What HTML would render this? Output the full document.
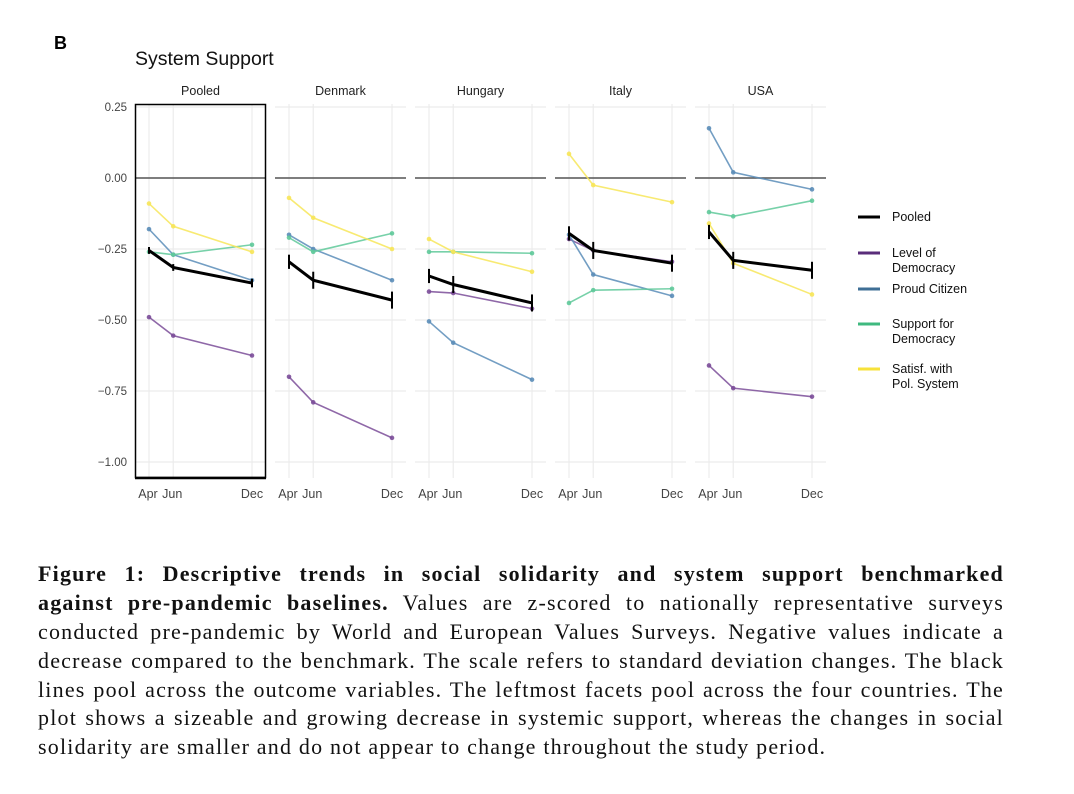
<!DOCTYPE html>
<html><head><meta charset="utf-8"><style>
body{margin:0;background:#fff;width:1074px;height:794px;overflow:hidden;position:relative;}
svg{position:absolute;left:0;top:0}
.cap{position:absolute;left:38px;width:966px;font-family:"Liberation Serif",serif;font-size:22px;letter-spacing:1.2px;color:#111;}
.cap div{height:28.9px;line-height:28.9px;text-align:justify;text-align-last:justify;white-space:nowrap;}
.cap div.last{text-align-last:left}
</style></head><body>
<svg id="chart" width="1074" height="540" font-family="Liberation Sans, sans-serif"></svg>
<div class="cap" style="top:560px">
<div><b>Figure 1: Descriptive trends in social solidarity and system support benchmarked</b></div>
<div><b>against pre-pandemic baselines.</b> Values are z-scored to nationally representative surveys</div>
<div>conducted pre-pandemic by World and European Values Surveys. Negative values indicate a</div>
<div>decrease compared to the benchmark. The scale refers to standard deviation changes. The black</div>
<div>lines pool across the outcome variables. The leftmost facets pool across the four countries. The</div>
<div>plot shows a sizeable and growing decrease in systemic support, whereas the changes in social</div>
<div class="last">solidarity are smaller and do not appear to change throughout the study period.</div>
</div>
<script>
const panels=["Pooled","Denmark","Hungary","Italy","USA"];
const months=["Apr","Jun","Dec"];
const monthPos=[0,2,8.5];
const yTicks=[0.25,0,-0.25,-0.5,-0.75,-1.0];
const yTickLabels=["0.25","0.00","\u22120.25","\u22120.50","\u22120.75","\u22121.00"];
const series=["Level of Democracy","Proud Citizen","Support for Democracy","Satisf. with Pol. System"];
const levelDem=[[-0.49,-0.555,-0.625],[-0.70,-0.79,-0.915],[-0.40,-0.405,-0.46],[-0.215,-0.255,-0.295],[-0.66,-0.74,-0.77]];
const proudCit=[[-0.18,-0.27,-0.36],[-0.20,-0.25,-0.36],[-0.505,-0.58,-0.71],[-0.20,-0.34,-0.415],[0.175,0.02,-0.04]];
const suppDem=[[-0.26,-0.27,-0.235],[-0.21,-0.26,-0.195],[-0.26,-0.26,-0.265],[-0.44,-0.395,-0.39],[-0.12,-0.135,-0.08]];
const satisf=[[-0.09,-0.17,-0.26],[-0.07,-0.14,-0.25],[-0.215,-0.26,-0.33],[0.085,-0.025,-0.085],[-0.16,-0.30,-0.41]];
const pooled=[[-0.255,-0.315,-0.37],[-0.295,-0.36,-0.43],[-0.345,-0.375,-0.44],[-0.195,-0.255,-0.30],[-0.19,-0.29,-0.325]];
const pooledErr=[[0.012,0.012,0.015],[0.025,0.03,0.03],[0.025,0.03,0.03],[0.025,0.03,0.03],[0.025,0.03,0.03]];
const colors=["#7b4d99","#5b8db8","#5fc99a","#f7e659"];
const NS="http://www.w3.org/2000/svg";
const svg=document.getElementById('chart');
function mk(t,a,p){const e=document.createElementNS(NS,t);for(const k in a)e.setAttribute(k,a[k]);(p||svg).appendChild(e);return e;}
const yS=v=>178-v*284;
const panelX=i=>135+i*140, panelW=131;
const xS=(i,m)=>panelX(i)+14+monthPos[m]/8.5*103;
let t=mk('text',{x:54,y:49,'font-size':18,fill:'#000','font-weight':'bold'});t.textContent='B';

t=mk('text',{x:135,y:65,'font-size':19.5,fill:'#111'});t.textContent='System Support';

yTicks.forEach((v,k)=>{const e=mk('text',{x:127,y:yS(v)+4,'font-size':11.5,fill:'#444','text-anchor':'end'});e.textContent=yTickLabels[k];
});
panels.forEach((p,i)=>{
  const g=mk('g',{});
  
  yTicks.forEach(v=>mk('line',{x1:panelX(i),x2:panelX(i)+panelW,y1:yS(v),y2:yS(v),stroke:'#ececec','stroke-width':1.2},g));
  months.forEach((m,k)=>mk('line',{x1:xS(i,k),x2:xS(i,k),y1:104,y2:478,stroke:'#ececec','stroke-width':1.2},g));
  mk('line',{x1:panelX(i),x2:panelX(i)+panelW,y1:yS(0),y2:yS(0),stroke:'#555','stroke-width':1.6},g);
  const s=mk('text',{x:panelX(i)+panelW/2,y:95,'font-size':12.5,fill:'#222','text-anchor':'middle'},g);s.textContent=p;
  
  months.forEach((m,k)=>{const e=mk('text',{x:xS(i,k)+(k==0?-1:(k==1?-1:0)),y:498,'font-size':12.5,fill:'#444','text-anchor':'middle'},g);e.textContent=m;
    });
  [levelDem,proudCit,suppDem,satisf].forEach((arr,si)=>{
    const pts=arr[i].map((v,k)=>xS(i,k)+','+yS(v)).join(' ');
    const l=mk('polyline',{points:pts,fill:'none',stroke:colors[si],'stroke-width':1.6,opacity:0.85},g);
    
    
    arr[i].forEach((v,k)=>{const c=mk('circle',{cx:xS(i,k),cy:yS(v),r:2.3,fill:colors[si],opacity:0.9},g);
      });
  });
  const pl=mk('polyline',{points:pooled[i].map((v,k)=>xS(i,k)+','+yS(v)).join(' '),fill:'none',stroke:'#000','stroke-width':3},g);
  
  pooled[i].forEach((v,k)=>{const e=mk('line',{x1:xS(i,k),x2:xS(i,k),y1:yS(v+pooledErr[i][k]),y2:yS(v-pooledErr[i][k]),stroke:'#000','stroke-width':2},g);
    });
});
const box=mk('rect',{x:135.5,y:104.5,width:130,height:373,fill:'none',stroke:'#000','stroke-width':1.5});

mk('line',{x1:135,x2:266,y1:478,y2:478,stroke:'#000','stroke-width':2.5});
const legNames=["Pooled","Level of|Democracy","Proud Citizen","Support for|Democracy","Satisf. with|Pol. System"];
const legCols=["#000","#5a2d7a","#3f6f96","#3fb97f","#f7e23a"];
const legY=[217,253,289,324,369];
legNames.forEach((n,k)=>{const g=mk('g',{});
  
  mk('line',{x1:858,x2:880,y1:legY[k],y2:legY[k],stroke:legCols[k],'stroke-width':3},g);
  n.split('|').forEach((s,j)=>{const e=mk('text',{x:892,y:legY[k]+4+j*15,'font-size':12.5,fill:'#111'},g);e.textContent=s;});
});
</script>
</body></html>
